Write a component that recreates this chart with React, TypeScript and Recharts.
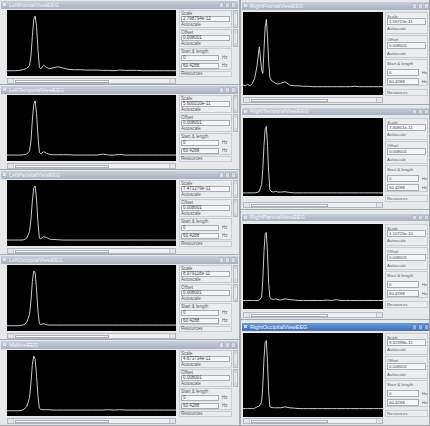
import React from "react";
import { LineChart, Line, XAxis, YAxis } from "recharts";

// Frequency bins (Hz) shared by every spectrum
const FREQS = [0, 1, 2, 3, 4, 5, 6, 7, 8, 8.5, 9, 9.5, 10, 10.5, 11, 11.5, 12, 13, 14, 15, 16, 18, 20, 22, 24, 26, 28, 30, 32, 34, 36, 38, 40, 42, 44, 46, 48, 50, 52, 54, 56, 58, 60];

// Relative spectral power per view (percent of autoscaled range)
const LEFT_FRONTAL = [8, 8, 8, 8, 8.5, 9, 10, 11.5, 16, 30, 60, 85, 91, 75, 40, 13, 11, 16, 13, 11, 12, 14, 12, 10, 9.5, 9.5, 9, 9, 9, 8.5, 8.5, 8, 9, 8.5, 8.5, 8.5, 8, 8, 8, 8, 8, 8, 8];
const LEFT_TEMPORAL = [9, 9, 9, 9, 9, 9, 9.5, 10.5, 15, 30, 62, 86, 91, 72, 38, 13, 11, 14, 12, 10, 9.5, 9.5, 9.5, 9.5, 9, 9, 9, 9, 9, 10.5, 9, 9, 10, 9, 9, 9, 9, 9, 9, 9, 9, 9, 9];
const LEFT_PARIETAL = [9, 9, 9, 9, 9, 9, 9.5, 12, 22, 40, 68, 88, 91, 70, 35, 12, 11, 14, 13, 10.5, 10, 9.5, 9, 9, 9, 9, 9, 9, 9, 9, 9, 9, 9, 9, 9, 9, 9, 9, 9, 9, 9, 9, 9];
const LEFT_OCCIPITAL = [8, 8, 8, 8, 8, 8.5, 9.5, 13, 25, 45, 75, 91, 88, 62, 30, 11, 10, 11, 9.5, 9, 9, 9, 9, 9, 9, 9, 9, 9, 9, 9, 9, 9, 9, 9, 9, 9, 9, 9, 9, 9, 9, 9, 9];
const MIDLINE = [8, 8, 8, 8, 8, 8.5, 10, 14, 28, 50, 78, 91, 86, 60, 30, 12, 10, 9.5, 9.5, 9.5, 9, 9, 9, 9, 9, 9, 9, 9, 9, 9, 9.5, 9, 9.5, 9, 9, 9, 9, 9, 9, 9, 9, 9, 9];
const RIGHT_FRONTAL = [12, 11, 13, 11, 14, 20, 35, 58, 30, 26, 55, 82, 91, 70, 40, 22, 18, 16, 14, 13, 14, 16, 12, 11, 11, 10.5, 10.5, 10, 10, 10, 10, 10, 10, 10, 10, 10, 10.5, 10, 10, 10, 10, 10, 10];
const RIGHT_TEMPORAL = [4, 4, 4, 4, 4, 4, 4.5, 6, 15, 35, 65, 86, 89, 65, 30, 8, 6, 5, 6, 5, 5, 5.5, 4.5, 4, 4, 4, 4, 4, 4, 4, 4, 4, 4, 4, 4, 4, 4, 4, 4, 4, 4, 4, 4];
const RIGHT_PARIETAL = [10, 10, 10, 10, 10, 10, 10, 10.5, 14, 35, 68, 88, 90, 66, 30, 14, 12, 11, 12, 11, 10.5, 12, 11, 10.5, 10, 10, 10, 10, 10, 10, 10.5, 10, 11, 10, 10, 10, 10, 10, 10, 10, 10, 10, 10];
const RIGHT_OCCIPITAL = [10, 10, 10, 10, 10, 10.5, 12, 13, 18, 38, 70, 89, 91, 65, 30, 12, 11.5, 11, 11, 11, 11, 12, 11, 10.5, 10, 10, 10, 10, 10, 10, 10, 10, 10, 10, 10, 10, 10, 10, 10, 10, 10, 10, 10];

const LEFT_TITLES = ["LeftFrontalViewEEG", "LeftTemporalViewEEG", "LeftParietalViewEEG", "LeftOccipitalViewEEG", "MidlineEEG"];
const RIGHT_TITLES = ["RightFrontalViewEEG", "RightTemporalViewEEG", "RightParietalViewEEG", "RightOccipitalViewEEG"];
const LEFT_SCALES = ["2.798794e-12", "5.600210e-11", "7.471279e-11", "8.979118e-11", "4.673734e-11"];
const RIGHT_SCALES = ["1.56724e-11", "7.40801e-11", "1.10726e-10", "9.32398e-11"];
const OFFSET_VALUE = "0.008001";
const START_VALUE = "0";
const LENGTH_VALUE = "60.4288";
const FREQ_UNIT = "Hz";

const LEFT_SERIES = [LEFT_FRONTAL, LEFT_TEMPORAL, LEFT_PARIETAL, LEFT_OCCIPITAL, MIDLINE];
const RIGHT_SERIES = [RIGHT_FRONTAL, RIGHT_TEMPORAL, RIGHT_PARIETAL, RIGHT_OCCIPITAL];

const UI_FONT = "'Liberation Sans', Arial, sans-serif";

function Spectrum({ values, w, h }: { values: number[]; w: number; h: number }) {
  const rows = FREQS.map((f, i) => ({ f, v: values[i] }));
  return (
    <LineChart width={w} height={h} data={rows} margin={{ top: 0, right: 0, bottom: 0, left: 0 }} style={{ background: "#000" }}>
      <XAxis dataKey="f" type="number" domain={[0, 60]} hide />
      <YAxis type="number" domain={[0, 100]} hide />
      <Line dataKey="v" type="linear" stroke="#c9c9c9" strokeWidth={1} dot={false} isAnimationActive={false} />
    </LineChart>
  );
}

type Box = { x: number; y: number; w: number; h: number };

function abs(b: Box, extra: React.CSSProperties = {}): React.CSSProperties {
  return { position: "absolute", left: b.x, top: b.y, width: b.w, height: b.h, boxSizing: "border-box", ...extra };
}

function TitleBar({ b, title, active, btnX }: { b: Box; title: string; active: boolean; btnX: number[] }) {
  const bg = active
    ? "linear-gradient(#6d9ad6, #3e6fb6)"
    : "linear-gradient(#c9cfd8, #a8b1be)";
  return (
    <div style={abs(b, { background: bg })}>
      <div style={{ position: "absolute", left: 2, top: 1.5, width: 3, height: 3, background: active ? "#e0ecff" : "#eef0f4", opacity: 0.8 }} />
      <div style={{ position: "absolute", left: 8, top: 0, fontSize: 5.5, lineHeight: `${b.h}px`, color: "#f4f6fa", fontFamily: UI_FONT, whiteSpace: "nowrap" }}>{title}</div>
      {btnX.map((x, i) => (
        <div key={i} style={{ position: "absolute", left: x, top: 1, width: 4.5, height: b.h - 2, background: active ? "#8fb2e2" : "#d7dbe1", border: "1px solid " + (active ? "#5a82bd" : "#b2b9c4"), boxSizing: "border-box" }} />
      ))}
    </div>
  );
}

function ScrollBar({ b, frac }: { b: Box; frac: number }) {
  const a = b.h;
  return (
    <div style={abs(b, { background: "#eef0f2", border: "1px solid #b4b8be" })}>
      <div style={{ position: "absolute", left: 0, top: 0, width: a - 1, height: a - 2, borderRight: "1px solid #c4c8cc", background: "#e2e4e8" }} />
      <div style={{ position: "absolute", left: a + 1, top: 0.5, width: (b.w - 2 * a) * frac, height: a - 3, background: "#fbfbfb", border: "1px solid #a9aeb5", boxSizing: "border-box" }} />
      <div style={{ position: "absolute", right: 0, top: 0, width: a - 1, height: a - 2, borderLeft: "1px solid #c4c8cc", background: "#e2e4e8" }} />
    </div>
  );
}

type SideLayout = {
  font: number;
  inH: number;
  inW: number;
  groups: [number, number][];
  scaleLbl: number; scaleIn: number; auto1: number;
  offLbl: number; offIn: number; auto2: number;
  startLbl: number; in1: number; in2: number;
  res: [number, number];
};

const LEFT_SIDE: SideLayout = {
  font: 4.5, inH: 5.5, inW: 38,
  groups: [[0, 18], [19, 37], [38, 60]],
  scaleLbl: 1, scaleIn: 6, auto1: 12,
  offLbl: 20, offIn: 25, auto2: 31,
  startLbl: 39, in1: 45, in2: 53,
  res: [61, 67],
};

const RIGHT_SIDE: SideLayout = {
  font: 4.3, inH: 7, inW: 32,
  groups: [[0, 22], [23, 46], [47, 74]],
  scaleLbl: 1.5, scaleIn: 6, auto1: 14,
  offLbl: 25, offIn: 30, auto2: 38.5,
  startLbl: 49, in1: 57, in2: 66,
  res: [77, 84],
};

function SidePanel({ x, w, top, L, scale, spin }: { x: number; w: number; top: number; L: SideLayout; scale: string; spin: boolean }) {
  const txt = (y: number, s: string, left = 2, color = "#5a5d62"): React.ReactNode => (
    <div style={{ position: "absolute", left, top: top + y, fontSize: L.font, lineHeight: `${L.font + 1}px`, color, fontFamily: UI_FONT, whiteSpace: "nowrap" }}>{s}</div>
  );
  const field = (y: number, s: string, fw: number) => (
    <div style={{ position: "absolute", left: 2, top: top + y, width: fw, height: L.inH, background: "#f6f6f6", border: "1px solid #a9adb3", boxSizing: "border-box" }}>
      <div style={{ position: "absolute", left: 1, top: 0, fontSize: L.font, lineHeight: `${L.inH - 2}px`, color: "#45484d", fontFamily: UI_FONT, whiteSpace: "nowrap" }}>{s}</div>
    </div>
  );
  return (
    <div style={{ position: "absolute", left: x, top: 0, width: w, height: "100%" }}>
      {L.groups.map(([a, b], i) => (
        <div key={i} style={{ position: "absolute", left: 0, top: top + a, width: w, height: b - a, border: "1px solid #c9ccd1", boxSizing: "border-box", background: "#ebecee" }} />
      ))}
      {spin && [L.groups[0], L.groups[1]].map(([a, b], i) => (
        <div key={"s" + i} style={{ position: "absolute", left: w + 1, top: top + a, width: 5, height: b - a, background: "#e4e6e9", border: "1px solid #b7bbc1", boxSizing: "border-box" }}>
          <div style={{ position: "absolute", left: 0, top: 0, width: 3, height: 3, background: "#d4d7dc" }} />
          <div style={{ position: "absolute", left: 0, bottom: 0, width: 3, height: 3, background: "#d4d7dc" }} />
        </div>
      ))}
      {txt(L.scaleLbl, "Scale")}
      {field(L.scaleIn, scale, w - 4)}
      {txt(L.auto1, "Autoscale")}
      {txt(L.offLbl, "Offset")}
      {field(L.offIn, OFFSET_VALUE, w - 4)}
      {txt(L.auto2, "Autoscale")}
      {txt(L.startLbl, "Start & length")}
      {field(L.in1, START_VALUE, L.inW)}
      {txt(L.in1 + (L.inH - L.font - 1) / 2, FREQ_UNIT, L.inW + 5)}
      {field(L.in2, LENGTH_VALUE, L.inW)}
      {txt(L.in2 + (L.inH - L.font - 1) / 2, FREQ_UNIT, L.inW + 5)}
      <div style={{ position: "absolute", left: 0, top: top + L.res[0], width: w, height: L.res[1] - L.res[0], border: "1px solid #c9ccd1", boxSizing: "border-box", background: "#ebecee" }} />
      {txt(L.res[0] + (L.res[1] - L.res[0] - L.font - 1) / 2, "Resources")}
    </div>
  );
}

type WinGeom = { top: number; h: number; title: [number, number]; plotTop: number; plotH: number; scroll: [number, number] };

const LEFT_GEOM: WinGeom[] = [0, 85, 170, 255, 340].map((t, i) => ({
  top: t, h: i === 4 ? 86 : 85, title: [1, 8], plotTop: 10, plotH: 66, scroll: [78, 6],
}));

const RIGHT_GEOM: WinGeom[] = [
  { top: 0, h: 105, title: [2, 8], plotTop: 12, plotH: 83, scroll: [97, 6] },
  { top: 105, h: 105, title: [3, 7], plotTop: 13, plotH: 78, scroll: [97, 6] },
  { top: 210, h: 110, title: [4, 7], plotTop: 14, plotH: 85, scroll: [102, 6] },
  { top: 320, h: 106, title: [3, 8], plotTop: 13, plotH: 84, scroll: [98, 6] },
];

function Win({ side, g, title, active, values, scale }: { side: "L" | "R"; g: WinGeom; title: string; active: boolean; values: number[]; scale: string }) {
  const isL = side === "L";
  const wx = isL ? 0 : 240;
  const ww = isL ? 240 : 190;
  const plotX = isL ? 7 : 2;
  const plotW = isL ? 169 : 140;
  return (
    <div style={{ position: "absolute", left: wx, top: g.top, width: ww, height: g.h, background: "#e7e8ea", borderRight: "1px solid #a3a8af", borderBottom: "1px solid #a3a8af", borderLeft: isL ? "none" : "1px solid #a3a8af", boxSizing: "border-box" }}>
      <TitleBar
        b={{ x: 1, y: g.title[0], w: ww - 3, h: g.title[1] }}
        title={title}
        active={active}
        btnX={isL ? [218, 224, 230] : [170, 176, 182]}
      />
      <div style={{ position: "absolute", left: plotX, top: g.plotTop, width: plotW, height: g.plotH, background: "#000" }}>
        <Spectrum values={values} w={plotW} h={g.plotH} />
      </div>
      <ScrollBar b={{ x: plotX, y: g.scroll[0], w: plotW, h: g.scroll[1] }} frac={0.6} />
      <SidePanel
        x={isL ? 179 : 144}
        w={isL ? 53 : 43}
        top={g.plotTop}
        L={isL ? LEFT_SIDE : RIGHT_SIDE}
        scale={scale}
        spin={isL}
      />
    </div>
  );
}

export default function App() {
  return (
    <div style={{ position: "fixed", left: 0, top: 0, width: 430, height: 426, background: "#cfd2d7", overflow: "hidden" }}>
      {LEFT_GEOM.map((g, i) => (
        <Win key={"l" + i} side="L" g={g} title={LEFT_TITLES[i]} active={false} values={LEFT_SERIES[i]} scale={LEFT_SCALES[i]} />
      ))}
      {RIGHT_GEOM.map((g, i) => (
        <Win key={"r" + i} side="R" g={g} title={RIGHT_TITLES[i]} active={i === 3} values={RIGHT_SERIES[i]} scale={RIGHT_SCALES[i]} />
      ))}
    </div>
  );
}
